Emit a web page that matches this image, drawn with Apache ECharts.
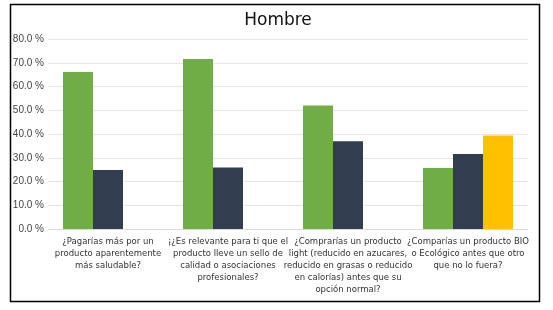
<!DOCTYPE html>
<html>
<head>
<meta charset="utf-8">
<script src="https://cdn.jsdelivr.net/npm/echarts@6/dist/echarts.min.js"></script>
<style>
html, body { margin: 0; padding: 0; background: #fff; }
#chart { width: 553px; height: 310px; }
</style>
</head>
<body>
<div id="chart"></div>
<script>
// preguntas (eje x)
const categories = [
  '¿Pagarías más por un\nproducto aparentemente\nmás saludable?',
  '¡¿Es relevante para ti que el\nproducto lleve un sello de\ncalidad o asociaciones\nprofesionales?',
  '¿Comprarías un producto\nlight (reducido en azucares,\nreducido en grasas o reducido\nen calorías) antes que su\nopción normal?',
  '¿Comparías un producto BIO\no Ecológico antes que otro\nque no lo fuera?'
]
// valores en %
const serieVerde = [66.1, 71.6, 52.0, 25.7]
const serieOscura = [24.8, 25.9, 37.0, 31.6]
const serieAmarilla = ['-', '-', '-', 39.4]

const chart = echarts.init(document.getElementById('chart'))
chart.setOption({
  animation: false,
  title: {
    text: 'Hombre',
    left: 273,
    textAlign: 'center',
    top: 7,
    textStyle: { fontFamily: 'DejaVu Sans', fontSize: 17, fontWeight: 'normal', color: '#111' }
  },
  graphic: [{
    type: 'rect',
    shape: { x: 10.5, y: 4.5, width: 529, height: 297 },
    style: { fill: 'none', stroke: '#000', lineWidth: 1.5 },
    silent: true
  }],
  grid: { left: 48, right: 25, top: 39, bottom: 81 },
  xAxis: {
    type: 'category',
    data: categories,
    axisLine: { lineStyle: { color: '#d9d9d9' } },
    axisTick: { show: false },
    axisLabel: {
      interval: 0,
      color: '#333',
      fontFamily: 'DejaVu Sans',
      fontSize: 8.5,
      lineHeight: 12,
      margin: 7
    }
  },
  yAxis: {
    type: 'value',
    min: 0,
    max: 80,
    interval: 10,
    axisLine: { show: false },
    axisTick: { show: false },
    splitLine: { lineStyle: { color: '#e8e4e4', width: 1 } },
    axisLabel: {
      color: '#444',
      fontFamily: 'Liberation Sans',
      fontSize: 10,
      margin: 4,
      formatter: v => v.toFixed(1) + ' %'
    }
  },
  series: [
    { name: 'Serie 1', type: 'bar', data: serieVerde, barGap: '0%', barCategoryGap: '25%', itemStyle: { color: '#70ad47' } },
    { name: 'Serie 2', type: 'bar', data: serieOscura, itemStyle: { color: '#323e4f' } },
    { name: 'Serie 3', type: 'bar', data: serieAmarilla, itemStyle: { color: '#ffc000' } }
  ]
})
</script>
</body>
</html>
